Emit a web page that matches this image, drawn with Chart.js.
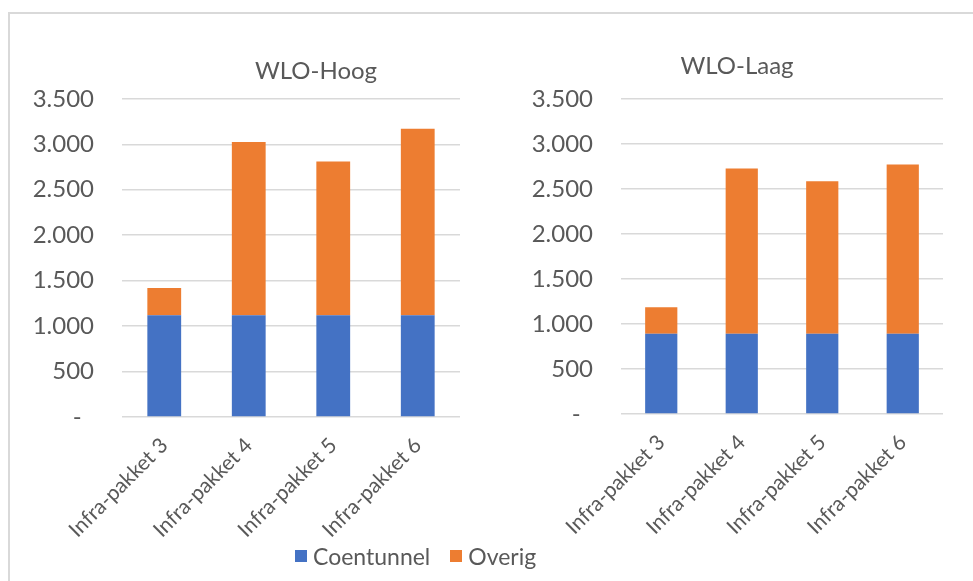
<!DOCTYPE html>
<html>
<head>
<meta charset="utf-8">
<script src="https://cdn.jsdelivr.net/npm/chart.js@4/dist/chart.umd.min.js"></script>
<style>
  html, body { margin: 0; padding: 0; background: #ffffff; }
  body { width: 973px; height: 581px; position: relative; overflow: hidden; font-family: Lato, "Open Sans", sans-serif; }
  .frame { position: absolute; left: 8px; top: 12px; width: 1000px; height: 600px; border: 2px solid #d9d9d9; box-sizing: border-box; }
  .chart-box { position: absolute; top: 0; height: 581px; }
  #boxHoog { left: 8px; width: 616px; }
  #boxLaag { left: 500px; width: 474px; }
  .legend { position: absolute; top: 542px; left: 295px; display: flex; align-items: center; color: #595959; font-size: 23px; white-space: nowrap; }
  .legend .sw { display: inline-block; width: 12px; height: 12px; margin-right: 6px; }
  .legend .item { display: flex; align-items: center; margin-right: 20px; }
</style>
</head>
<body>
<div class="frame"></div>
<div class="chart-box" id="boxHoog"><canvas id="hoog"></canvas></div>
<div class="chart-box" id="boxLaag"><canvas id="laag"></canvas></div>
<div class="legend">
  <span class="item"><span class="sw" style="background:#4472C4"></span>Coentunnel</span>
  <span class="item"><span class="sw" style="background:#ED7D31"></span>Overig</span>
</div>
<script>
// Categories and series values
const categories = ['Infra-pakket 3', 'Infra-pakket 4', 'Infra-pakket 5', 'Infra-pakket 6'];
const seriesNames = ['Coentunnel', 'Overig'];
const hoogCoentunnel = [1120, 1120, 1120, 1120];
const hoogOverig = [300, 1905, 1690, 2050];
const laagCoentunnel = [890, 890, 890, 890];
const laagOverig = [295, 1835, 1695, 1880];
const yTicks = [0, 500, 1000, 1500, 2000, 2500, 3000, 3500];

const BLUE = '#4472C4';
const ORANGE = '#ED7D31';
const TEXT = '#595959';
const GRID = '#d9d9d9';
const FONT = 'Lato, "Open Sans", sans-serif';

// thousands separator with a dot, zero shown as a dash
function fmt(v) {
  if (v === 0) return '-  ';
  return String(v).replace(/\B(?=(\d{3})+(?!\d))/g, '.');
}

function makeChart(id, title, coen, overig, opts) {
  const ctx = document.getElementById(id);
  return new Chart(ctx, {
    type: 'bar',
    data: {
      labels: categories,
      datasets: [
        { label: seriesNames[0], data: coen, backgroundColor: BLUE, categoryPercentage: 1, barPercentage: 0.4 },
        { label: seriesNames[1], data: overig, backgroundColor: ORANGE, categoryPercentage: 1, barPercentage: 0.4 }
      ]
    },
    options: {
      responsive: true,
      maintainAspectRatio: false,
      animation: false,
      layout: { padding: 0 },
      plugins: {
        legend: { display: false },
        tooltip: { enabled: false },
        title: {
          display: true,
          text: title,
          color: TEXT,
          font: { family: FONT, size: 24, weight: 'normal' },
          padding: { top: opts.titleTop, bottom: opts.titleBottom }
        }
      },
      scales: {
        x: {
          stacked: true,
          grid: { display: false, drawTicks: false },
          border: { display: false },
          ticks: {
            color: TEXT,
            font: { family: FONT, size: 21 },
            minRotation: 45,
            maxRotation: 45,
            autoSkip: false,
            padding: 16
          },
          afterFit: s => { s.height = opts.xHeight; }
        },
        y: {
          stacked: true,
          min: 0,
          max: 3500,
          afterBuildTicks: s => { s.ticks = yTicks.map(v => ({ value: v })); },
          grid: { color: GRID, lineWidth: 1.5, drawTicks: false },
          border: { display: false },
          ticks: {
            color: TEXT,
            font: { family: FONT, size: 24 },
            padding: 28,
            callback: v => fmt(v)
          },
          afterFit: s => { s.width = opts.yWidth; }
        },
        // empty spacer on the right so the title stays centred on the canvas
        spacer: {
          type: 'linear',
          position: 'right',
          display: true,
          grid: { display: false, drawTicks: false },
          border: { display: false },
          ticks: { display: false },
          afterFit: s => { s.width = opts.padRight; }
        }
      }
    }
  });
}

makeChart('hoog', 'WLO-Hoog', hoogCoentunnel, hoogOverig,
  { padRight: 164, yWidth: 114, xHeight: 164, titleTop: 57, titleBottom: 13 });
makeChart('laag', 'WLO-Laag', laagCoentunnel, laagOverig,
  { padRight: 31, yWidth: 121, xHeight: 167, titleTop: 52, titleBottom: 18 });
</script>
</body>
</html>
